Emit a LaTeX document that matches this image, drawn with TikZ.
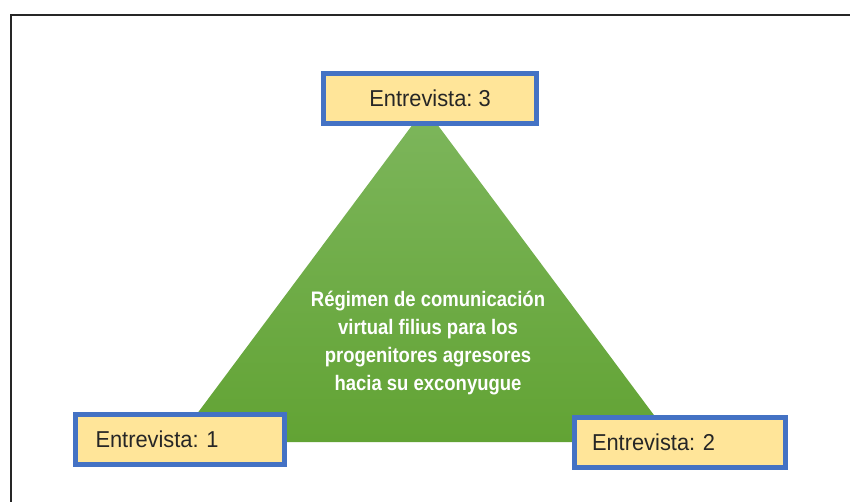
\documentclass[tikz,border=0pt]{standalone}
\usepackage{fontspec}
\setmainfont{Liberation Sans}
\newfontfamily\boxfont[FakeStretch=0.95]{Liberation Sans}
\newfontfamily\narrowfont[FakeStretch=0.88]{Liberation Sans}
\usepackage{xcolor}
\definecolor{boxblue}{RGB}{68,114,196}
\definecolor{boxyellow}{RGB}{255,229,153}
\definecolor{greentop}{RGB}{125,182,92}
\definecolor{greenbot}{RGB}{98,163,52}
\frenchspacing
\tikzset{
  entrevista/.style={draw=boxblue, line width=5pt, fill=boxyellow, minimum height=50pt,
    font=\boxfont\fontsize{23}{26}\selectfont, text=black!85},
}
\begin{document}
\begin{tikzpicture}[x=1pt,y=-1pt]
\useasboundingbox (0,0) rectangle (850,502);
\draw[line width=2pt, black!85] (10.5,520) -- (10.5,15.5) -- (870,15.5);
% triangulo
\coordinate (cima) at (425,108);
\coordinate (izq) at (176,442);
\coordinate (der) at (674,442);
\shade[top color=greentop, bottom color=greenbot] (cima) -- (izq) -- (der) -- cycle;
\node[text=white, font=\narrowfont\bfseries\fontsize{21}{28.3}\selectfont, align=center]
  (tema) at (428,343) {R\'egimen de comunicaci\'on\\virtual filius para los\\progenitores agresores\\hacia su exconyugue};
% entrevistas
\node[entrevista, minimum width=213pt] (e3) at (430,98.5) {Entrevista: 3};
\node[entrevista, minimum width=209pt, text width=169pt, inner xsep=20pt, align=left] (e1) at (180,439.5) {Entrevista: 1};
\node[entrevista, minimum width=211pt, text width=176pt, inner xsep=17.5pt, align=left] (e2) at (680,442) {Entrevista: 2};
\end{tikzpicture}
\end{document}
